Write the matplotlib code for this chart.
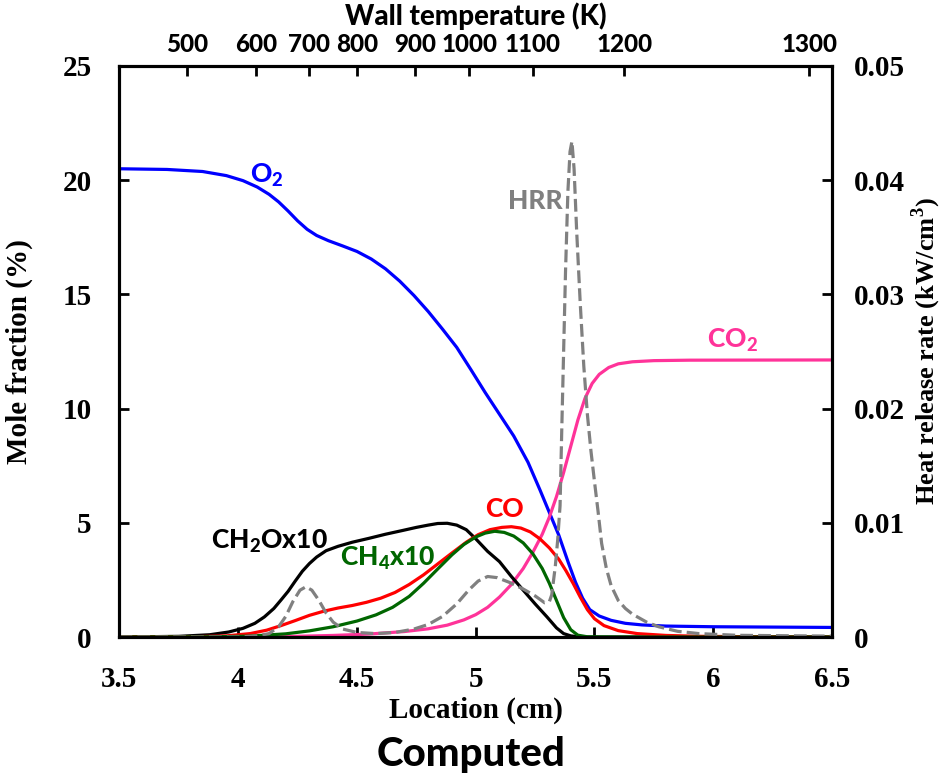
import numpy as np
import matplotlib
matplotlib.use("Agg")
import matplotlib.pyplot as plt
from matplotlib.font_manager import FontProperties

# location (cm) vs mole fraction (%)
o2_x = [3.5, 3.7, 3.85, 3.95, 4.02, 4.08, 4.13, 4.17, 4.21, 4.25, 4.29, 4.33, 4.38, 4.44,
        4.5, 4.56, 4.62, 4.68, 4.74, 4.8, 4.86, 4.92, 4.98, 5.04, 5.1, 5.16, 5.22, 5.27,
        5.31, 5.35, 5.39, 5.42, 5.45, 5.48, 5.52, 5.57, 5.63, 5.7, 5.8, 6.0, 6.5]
o2_y = [20.5, 20.47, 20.38, 20.2, 19.98, 19.7, 19.38, 19.05, 18.65, 18.22, 17.85, 17.58,
        17.35, 17.12, 16.88, 16.55, 16.12, 15.58, 14.95, 14.25, 13.48, 12.68, 11.7, 10.7,
        9.75, 8.8, 7.65, 6.45, 5.45, 4.45, 3.25, 2.4, 1.7, 1.2, 0.92, 0.73, 0.6, 0.53,
        0.48, 0.45, 0.42]

co2_x = [3.5, 4.0, 4.2, 4.4, 4.55, 4.7, 4.8, 4.88, 4.95, 5.0, 5.05, 5.1, 5.15, 5.2, 5.24,
         5.28, 5.31, 5.34, 5.37, 5.4, 5.43, 5.46, 5.49, 5.52, 5.56, 5.6, 5.66, 5.75, 5.9, 6.5]
co2_y = [0, 0, 0.02, 0.07, 0.13, 0.24, 0.36, 0.52, 0.75, 0.98, 1.3, 1.75, 2.3, 3.0, 3.7,
         4.5, 5.25, 6.15, 7.2, 8.35, 9.5, 10.45, 11.1, 11.5, 11.8, 11.96, 12.05, 12.1,
         12.12, 12.13]

co_x = [3.5, 3.8, 3.95, 4.05, 4.12, 4.18, 4.24, 4.3, 4.36, 4.42, 4.48, 4.54, 4.6, 4.66,
        4.72, 4.78, 4.84, 4.9, 4.96, 5.01, 5.06, 5.11, 5.15, 5.19, 5.23, 5.27, 5.31, 5.35,
        5.38, 5.41, 5.44, 5.47, 5.5, 5.54, 5.6, 5.68, 5.8, 5.95, 6.2, 6.5]
co_y = [0, 0.01, 0.05, 0.15, 0.3, 0.5, 0.72, 0.95, 1.13, 1.27, 1.38, 1.52, 1.7, 1.95,
        2.3, 2.72, 3.2, 3.68, 4.15, 4.48, 4.7, 4.8, 4.83, 4.77, 4.6, 4.3, 3.9, 3.4, 2.9,
        2.35, 1.75, 1.2, 0.8, 0.5, 0.28, 0.15, 0.07, 0.03, 0.01, 0]

ch4_x = [3.5, 3.9, 4.05, 4.2, 4.3, 4.4, 4.5, 4.58, 4.65, 4.72, 4.78, 4.84, 4.9, 4.95, 5.0,
         5.04, 5.08, 5.12, 5.16, 5.2, 5.24, 5.28, 5.31, 5.34, 5.37, 5.4, 5.43, 5.47, 5.6, 6.5]
ch4_y = [0, 0.01, 0.04, 0.14, 0.27, 0.45, 0.7, 0.97, 1.3, 1.78, 2.35, 2.98, 3.6, 4.05,
         4.38, 4.55, 4.63, 4.58, 4.42, 4.12, 3.65, 3.0, 2.35, 1.6, 0.85, 0.32, 0.08, 0.01,
         0, 0]

ch2o_x = [3.5, 3.75, 3.88, 3.96, 4.02, 4.07, 4.11, 4.15, 4.18, 4.21, 4.24, 4.27, 4.3, 4.33,
          4.37, 4.42, 4.48, 4.55, 4.62, 4.69, 4.75, 4.8, 4.84, 4.88, 4.92, 4.96, 5.0, 5.05,
          5.1, 5.15, 5.2, 5.25, 5.3, 5.34, 5.37, 5.4, 5.44, 6.5]
ch2o_y = [0, 0.03, 0.1, 0.22, 0.38, 0.6, 0.88, 1.25, 1.62, 2.0, 2.45, 2.88, 3.22, 3.5,
          3.78, 3.97, 4.15, 4.32, 4.5, 4.66, 4.8, 4.9, 4.97, 4.98, 4.9, 4.7, 4.3, 3.75,
          3.3, 2.65, 2.05, 1.45, 0.88, 0.4, 0.15, 0.05, 0, 0]

# heat release rate (kW/cm3)
hrr_x = [3.5, 4.0, 4.08, 4.13, 4.17, 4.2, 4.23, 4.26, 4.285, 4.31, 4.34, 4.37, 4.4, 4.44,
         4.5, 4.58, 4.66, 4.74, 4.8, 4.86, 4.92, 4.97, 5.01, 5.05, 5.09, 5.14, 5.2, 5.25,
         5.29, 5.31, 5.32, 5.335, 5.345, 5.355, 5.362, 5.37, 5.378, 5.388, 5.397, 5.405,
         5.414, 5.425, 5.44, 5.455, 5.47, 5.485, 5.5, 5.515, 5.53, 5.55, 5.57, 5.6, 5.63,
         5.66, 5.72, 5.77, 5.85, 5.94, 6.1, 6.5]
hrr_y = [0, 0, 0.0001, 0.0003, 0.0009, 0.0018, 0.0031, 0.0041, 0.0044, 0.0041, 0.0032,
         0.0021, 0.0013, 0.0007, 0.0004, 0.0003, 0.0004, 0.0007, 0.0011, 0.0018, 0.0029,
         0.0041, 0.0049, 0.0053, 0.0052, 0.0048, 0.0042, 0.0036, 0.003, 0.0031, 0.0037,
         0.0062, 0.0085, 0.0115, 0.018, 0.025, 0.032, 0.039, 0.0425, 0.0434, 0.041, 0.0355,
         0.0292, 0.0237, 0.0195, 0.0163, 0.0136, 0.011, 0.0082, 0.006, 0.0045, 0.0032,
         0.0025, 0.002, 0.0013, 0.0009, 0.0005, 0.0003, 0.00015, 0.00008]

# wall temperature scale on top
wall_T = [500, 600, 700, 800, 900, 1000, 1100, 1200, 1300]
wall_T_loc = [3.783, 4.074, 4.30, 4.50, 4.743, 4.972, 5.239, 5.625, 6.404]

x_ticks = [3.5, 4, 4.5, 5, 5.5, 6, 6.5]
x_labels = ["3.5", "4", "4.5", "5", "5.5", "6", "6.5"]
y_ticks = [0, 5, 10, 15, 20, 25]
hrr_ticks = [0, 0.01, 0.02, 0.03, 0.04, 0.05]
hrr_labels = ["0", "0.01", "0.02", "0.03", "0.04", "0.05"]

serif = dict(family="Liberation Serif", weight="bold")
sans = dict(family="Lato", weight="black")

fig = plt.figure(figsize=(9.43, 7.78), dpi=100)
ax = fig.add_axes([0.1267, 0.1812, 0.7556, 0.734])
ax2 = ax.twinx()
axt = ax.twiny()

lw = 2.3
ax.plot(o2_x, o2_y, color="#0000ff", lw=lw)
ax.plot(co2_x, co2_y, color="#ff3399", lw=lw)
ax.plot(ch2o_x, ch2o_y, color="black", lw=lw)
ax.plot(co_x, co_y, color="#ff0000", lw=lw)
ax.plot(ch4_x, ch4_y, color="#006600", lw=lw)
ax2.plot(hrr_x, hrr_y, color="#808080", lw=lw, dashes=(4.0, 1.6))

ax.set_xlim(3.5, 6.5)
ax.set_ylim(0, 25)
ax2.set_ylim(0, 0.05)
axt.set_xlim(3.5, 6.5)

ax.set_xticks(x_ticks, x_labels)
ax.set_yticks(y_ticks, [str(v) for v in y_ticks])
ax2.set_yticks(hrr_ticks, hrr_labels)
axt.set_xticks(wall_T_loc, [str(t) for t in wall_T])

for a in (ax, ax2, axt):
    for s in a.spines.values():
        s.set_linewidth(2.2)
        s.set_color("black")

ax.tick_params(axis="x", direction="in", length=7, width=2, pad=21)
ax.tick_params(axis="y", direction="in", length=7, width=2, pad=20)
ax2.tick_params(axis="y", direction="in", length=7, width=2, pad=16)
axt.tick_params(axis="x", direction="in", length=7, width=2, pad=7)

for lab in ax.get_xticklabels() + ax.get_yticklabels() + ax2.get_yticklabels():
    lab.set_fontproperties(FontProperties(size=21, **serif))
for lab in axt.get_xticklabels():
    lab.set_fontproperties(FontProperties(size=17.5, **sans))

ax.set_xlabel("Location (cm)", fontsize=21, **serif)
ax.xaxis.set_label_coords(0.5, -0.105)
ax.set_ylabel("Mole fraction (%)", fontsize=21, **serif)
ax.yaxis.set_label_coords(-0.121, 0.5)
ax2.set_ylabel(r"Heat release rate (kW/cm$^\mathregular{3}$)", fontsize=19, **serif)
ax2.yaxis.set_label_coords(1.109, 0.5)
axt.set_xlabel("Wall temperature (K)", fontsize=20, **sans)
axt.xaxis.set_label_coords(0.5, 1.072)

fig.text(0.5, 0.03, "Computed", ha="center", va="center", fontsize=29, **sans)

# curve labels
lab_kw = dict(fontsize=19, ha="center", va="center", **sans)
ax.text(4.12, 20.2, r"$\mathregular{O_2}$", color="#0000ff", **lab_kw)
ax.text(4.13, 4.2, r"$\mathregular{CH_2Ox10}$", color="black", **lab_kw)
ax.text(4.63, 3.45, r"$\mathregular{CH_4x10}$", color="#006600", **lab_kw)
ax.text(5.12, 5.6, "CO", color="#ff0000", **lab_kw)
ax.text(5.25, 19.1, "HRR", color="#808080", **lab_kw)
ax.text(6.08, 13.0, r"$\mathregular{CO_2}$", color="#ff3399", **lab_kw)

fig.savefig("out.png", dpi=100)
